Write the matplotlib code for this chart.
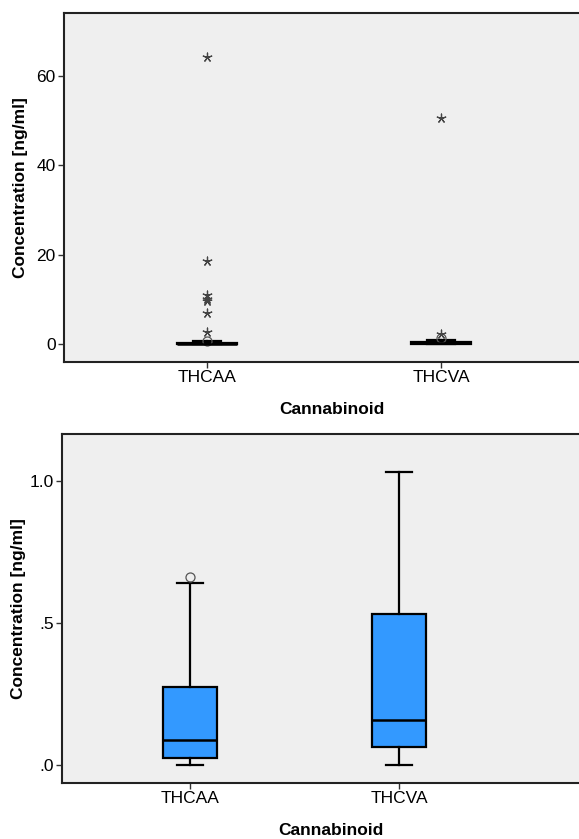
import matplotlib
matplotlib.use("Agg")
import matplotlib.pyplot as plt

plt.rcParams['font.family'] = ['Liberation Sans', 'DejaVu Sans']

# Cannabinoid concentrations, box summary per compound
categories = ["THCAA", "THCVA"]
q1 = [0.027, 0.064]
median = [0.088, 0.158]
q3 = [0.276, 0.531]
whisker_low = [0.0, 0.0]
whisker_high = [0.64, 1.032]
# mild outliers (circles) and extremes (asterisks)
outliers = [[0.66], [1.4]]
extremes = [[64.3, 18.6, 11.0, 10.1, 9.6, 7.0, 2.75], [50.7, 2.2]]

top_ticks = [0, 20, 40, 60]
top_ticklabels = ["0", "20", "40", "60"]
bottom_ticks = [0.0, 0.5, 1.0]
bottom_ticklabels = [".0", ".5", "1.0"]

BG = "#efefef"
BOX = "#3399ff"
W, H = 579, 839
fig = plt.figure(figsize=(W / 100, H / 100), dpi=100)


def fig_rect(left, top, right, bottom):
    return [left / W, 1 - bottom / H, (right - left) / W, (bottom - top) / H]


def draw_panel(ax, xlim, ylim, ticks, ticklabels, ylabel_x):
    stats = []
    for i, name in enumerate(categories):
        stats.append(dict(label=name, q1=q1[i], med=median[i], q3=q3[i],
                          whislo=whisker_low[i], whishi=whisker_high[i],
                          fliers=outliers[i]))
    positions = [1, 2]
    ax.bxp(stats, positions=positions, widths=0.256, capwidths=0.12,
           patch_artist=True, showfliers=True,
           boxprops=dict(facecolor=BOX, edgecolor="black", linewidth=1.6),
           medianprops=dict(color="black", linewidth=1.8),
           whiskerprops=dict(color="black", linewidth=1.6),
           capprops=dict(color="black", linewidth=1.6),
           flierprops=dict(marker="o", markersize=6.5, markerfacecolor="none",
                           markeredgecolor="#555555", markeredgewidth=0.9))
    for pos, vals in zip(positions, extremes):
        ax.scatter([pos] * len(vals), vals, marker=(5, 2, 0), s=40,
                   color="#444444", linewidths=0.9, zorder=4)
    ax.set_facecolor(BG)
    ax.set_xlim(*xlim)
    ax.set_ylim(*ylim)
    ax.set_yticks(ticks)
    ax.set_yticklabels(ticklabels, fontsize=12.5)
    ax.set_xticks(positions)
    ax.set_xticklabels(categories, fontsize=12.5)
    ax.tick_params(axis="both", length=4, width=1.0, color="#333333", pad=2)
    for s in ax.spines.values():
        s.set_linewidth(1.5)
        s.set_color("#222222")
    ax.set_ylabel("Concentration [ng/ml]", fontsize=12.5, fontweight="bold")
    ax.yaxis.set_label_coords(ylabel_x, 0.5)
    ax.set_xlabel("Cannabinoid", fontsize=12.5, fontweight="bold", labelpad=12)


ax_top = fig.add_axes(fig_rect(64, 13.5, 600, 362))
draw_panel(ax_top, (1 - 143 / 234, 2 + 159 / 234), (-4.0, 74.0),
           top_ticks, top_ticklabels, (28 - 64) / 536)

ax_bot = fig.add_axes(fig_rect(62, 434.3, 600, 782.7))
draw_panel(ax_bot, (1 - 128 / 209, 2 + 201 / 209), (-0.061, 1.163),
           bottom_ticks, bottom_ticklabels, (26 - 62) / 538)

fig.savefig("out.png", dpi=100, facecolor="white")
